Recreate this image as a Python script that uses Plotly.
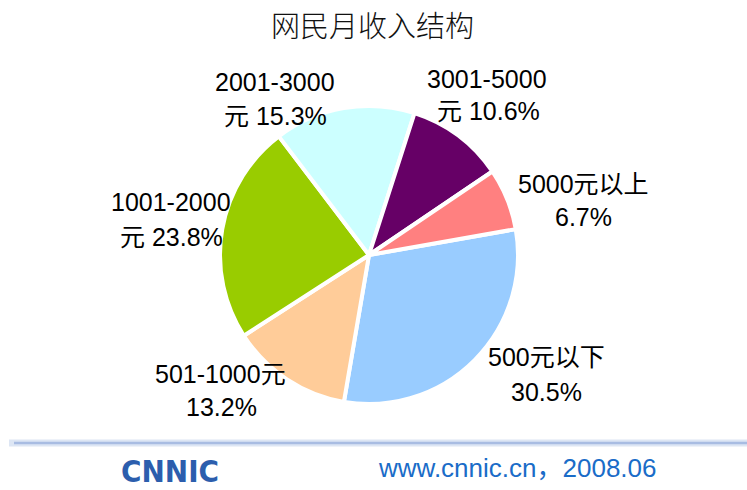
import plotly.graph_objects as go

# ---- data ----
categories = ["500元以下", "501-1000元", "1001-2000元", "2001-3000元", "3001-5000元", "5000元以上"]
shares = [30.5, 13.2, 23.8, 15.3, 10.6, 6.7]
label_line1 = ["500元以下", "501-1000元", "1001-2000", "2001-3000", "3001-5000", "5000元以上"]
label_line2 = ["30.5%", "13.2%", "元 23.8%", "元 15.3%", "元 10.6%", "6.7%"]
colors = ["#99CCFF", "#FFCC99", "#99CC00", "#CCFFFF", "#660066", "#FF8080"]
title_text = "网民月收入结构"
footer_text = "www.cnnic.cn，2008.06"
logo_text = "CNNIC"

W, H = 747, 490


def px(x):
    return x / W


def py(y):
    return 1 - y / H


# label anchor positions (screen pixels, top-left origin) for line 1 and line 2
label_pos1 = [(546, 357), (220, 374), (171, 202), (275, 82), (487, 79), (583, 184)]
label_pos2 = [(546, 392), (222, 407), (171, 237), (275, 116), (488, 111), (583, 217)]

cx, cy, r = 369, 255, 149
font_lat = "Liberation Sans, Arial, Noto Sans CJK SC, sans-serif"

fig = go.Figure()
fig.add_trace(go.Pie(
    labels=categories,
    values=shares,
    sort=False,
    direction="clockwise",
    rotation=80,
    marker=dict(colors=colors, line=dict(color="white", width=4)),
    textinfo="none",
    hoverinfo="label+percent",
    showlegend=False,
    domain=dict(x=[px(cx - r), px(cx + r)], y=[py(cy + r), py(cy - r)]),
))

annotations = []
for t, (x, y) in zip(label_line1, label_pos1):
    annotations.append(dict(text=t, x=px(x), y=py(y), xref="paper", yref="paper",
                            xanchor="center", yanchor="middle", showarrow=False,
                            font=dict(family=font_lat, size=25, color="#000000")))
for t, (x, y) in zip(label_line2, label_pos2):
    annotations.append(dict(text=t, x=px(x), y=py(y), xref="paper", yref="paper",
                            xanchor="center", yanchor="middle", showarrow=False,
                            font=dict(family=font_lat, size=25, color="#000000")))

# title
annotations.append(dict(text=title_text, x=px(372), y=py(24), xref="paper", yref="paper",
                        xanchor="center", yanchor="middle", showarrow=False,
                        font=dict(family="Noto Sans CJK SC, sans-serif", size=29, color="#111111",
                                  weight=300)))
# footer url
annotations.append(dict(text=footer_text, x=px(517), y=py(468), xref="paper", yref="paper",
                        xanchor="center", yanchor="middle", showarrow=False,
                        font=dict(family=font_lat, size=26, color="#1A6CC8")))
# logo
annotations.append(dict(text="<b>" + logo_text + "</b>", x=px(170), y=py(471), xref="paper", yref="paper",
                        xanchor="center", yanchor="middle", showarrow=False,
                        font=dict(family="DejaVu Sans Condensed, Liberation Sans, sans-serif",
                                  size=31, color="#2C5EAD")))

shapes = [
    dict(type="line", xref="paper", yref="paper", x0=px(9), x1=1, y0=py(443), y1=py(443),
         line=dict(color="#DDE6F4", width=7)),
    dict(type="line", xref="paper", yref="paper", x0=px(14), x1=1, y0=py(443), y1=py(443),
         line=dict(color="#A8BCE2", width=2.5)),
]

fig.update_layout(
    width=W, height=H,
    margin=dict(l=0, r=0, t=0, b=0),
    paper_bgcolor="white",
    plot_bgcolor="white",
    annotations=annotations,
    shapes=shapes,
)

fig.write_html("out.html", config={"displayModeBar": False},
               post_script="document.body.style.margin='0px';")
